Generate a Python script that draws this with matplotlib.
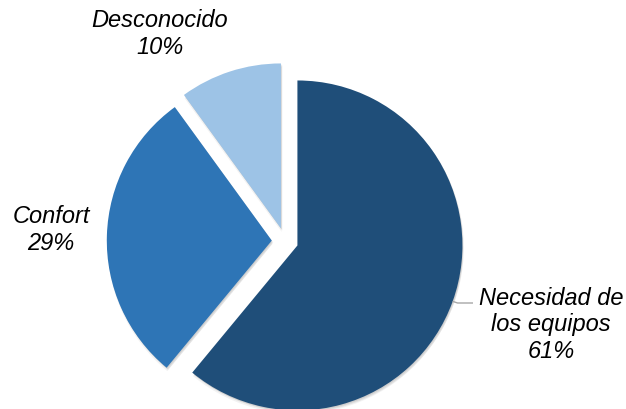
import numpy as np
import matplotlib
matplotlib.use("Agg")
import matplotlib.pyplot as plt
import matplotlib.patheffects as pe

categories = ["Necesidad de\nlos equipos", "Confort", "Desconocido"]
values = [61, 29, 10]
colors = ["#1F4E79", "#2E75B6", "#9DC3E6"]

W, H = 626, 409
R_PX = 165.0
CX, CY = 285.0, 241.0  # pie centre in pixel coordinates (from top-left)


def to_data(px, py):
    return (px - CX) / R_PX, (CY - py) / R_PX


fig = plt.figure(figsize=(W / 100, H / 100), dpi=100)
ax = fig.add_axes([0, 0, 1, 1])
ax.axis("off")

# soft drop shadow built from a few translucent offset copies
shadow = [
    pe.SimplePatchShadow(offset=(0.5, -2.5), shadow_rgbFace="#000000", alpha=0.05),
    pe.SimplePatchShadow(offset=(1.0, -1.5), shadow_rgbFace="#000000", alpha=0.07),
    pe.SimplePatchShadow(offset=(0.5, -0.8), shadow_rgbFace="#000000", alpha=0.08),
    pe.Normal(),
]

wedges, _ = ax.pie(
    values,
    colors=colors,
    startangle=90,
    counterclock=False,
    explode=[0.08] * len(values),
    radius=1.0,
    center=(0, 0),
    wedgeprops=dict(linewidth=0, path_effects=shadow),
    frame=False,
)
ax.set_xlim(-CX / R_PX, (W - CX) / R_PX)
ax.set_ylim(-(H - CY) / R_PX, CY / R_PX)

font = dict(family="Liberation Sans", style="italic", fontsize=17,
            color="#000000", linespacing=1.17, ha="center", va="center")

labels = [f"{c}\n{v}%" for c, v in zip(categories, values)]
label_pos = [(551, 325), (51, 230), (160, 34)]
for lab, (px, py) in zip(labels, label_pos):
    x, y = to_data(px, py)
    ax.text(x, y, lab, **font)

# leader line for the largest slice
w0 = wedges[0]
mid = np.deg2rad(0.5 * (w0.theta1 + w0.theta2))
cx0, cy0 = w0.center
sx, sy = cx0 + np.cos(mid), cy0 + np.sin(mid)
ex, ey = to_data(473, 303)
ax.plot([sx, sx + 0.03, ex], [sy, ey, ey], color="#A6A6A6", lw=1.0,
        solid_capstyle="butt")

fig.savefig("out.png", dpi=100)
